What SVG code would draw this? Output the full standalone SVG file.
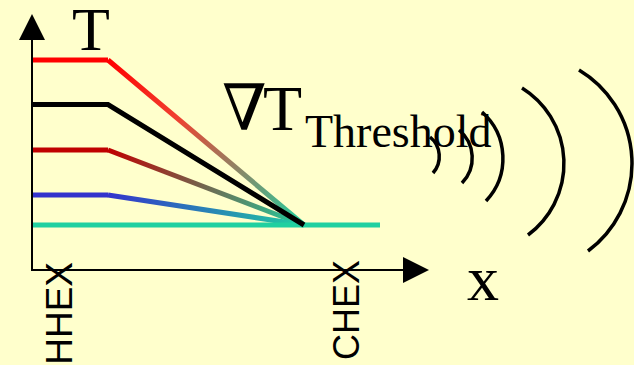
<svg xmlns="http://www.w3.org/2000/svg" width="634" height="365" viewBox="0 0 634 365">
  <style>
    .axis { stroke: #000; stroke-width: 2; fill: none; }
    .curve { stroke-width: 5; fill: none; stroke-linecap: butt; stroke-linejoin: miter; }
    .wave { stroke: #000; stroke-width: 3.5; fill: none; }
    .serif { font-family: "Liberation Serif", "DejaVu Serif", serif; fill: #000; }
    .sans { font-family: "Liberation Sans", Arial, sans-serif; fill: #000; }
  </style>
  <defs>
    <linearGradient id="gRed" gradientUnits="userSpaceOnUse" x1="108" y1="60" x2="304" y2="225">
      <stop offset="0" stop-color="#FF0000"/>
      <stop offset="0.35" stop-color="#F04030"/>
      <stop offset="1" stop-color="#20D0A0"/>
    </linearGradient>
    <linearGradient id="gDark" gradientUnits="userSpaceOnUse" x1="108" y1="150" x2="304" y2="225">
      <stop offset="0" stop-color="#C00000"/>
      <stop offset="1" stop-color="#20D0A0"/>
    </linearGradient>
    <linearGradient id="gBlue" gradientUnits="userSpaceOnUse" x1="108" y1="195" x2="304" y2="225">
      <stop offset="0" stop-color="#3333CC"/>
      <stop offset="1" stop-color="#20D0A0"/>
    </linearGradient>
  </defs>
  <rect width="634" height="365" fill="#FFFFCC"/>

  <g id="axes">
    <line class="axis" x1="32" y1="271" x2="32" y2="36"/>
    <polygon points="32,14 19,40 45,40" fill="#000"/>
    <line class="axis" x1="31" y1="270" x2="406" y2="270"/>
    <polygon points="429,270 403,257 403,283" fill="#000"/>
  </g>

  <g id="curves">
    <polyline class="curve" points="33,60 108,60" stroke="#FF0000"/>
    <line class="curve" x1="108" y1="60" x2="304" y2="225" stroke="url(#gRed)"/>
    <polyline class="curve" points="33,150 108,150" stroke="#C00000"/>
    <line class="curve" x1="108" y1="150" x2="304" y2="225" stroke="url(#gDark)"/>
    <polyline class="curve" points="33,195 108,195" stroke="#3333CC"/>
    <line class="curve" x1="108" y1="195" x2="304" y2="225" stroke="url(#gBlue)"/>
    <polyline class="curve" points="33,225 380,225" stroke="#20D0A0"/>
    <polyline class="curve" points="33,104.5 108,104.5 304,225" stroke="#000"/>
  </g>

  <g id="labels">
    <text class="serif" x="72" y="50" font-size="62">T</text>
    <text class="serif" x="222" y="130" font-size="64">∇</text>
    <text class="serif" x="263" y="130" font-size="64">T</text>
    <text class="serif" x="305" y="147" font-size="46">Threshold</text>
    <text class="serif" x="467" y="300" font-size="64">x</text>
    <text class="sans" font-size="37" text-anchor="end" transform="translate(72,262) rotate(-90)">HHEX</text>
    <text class="sans" font-size="36" text-anchor="end" transform="translate(359,260) rotate(-90)">CHEX</text>
  </g>

  <g id="waves">
    <path class="wave" d="M430,137 A25,25 0 0 1 433,173"/>
    <path class="wave" d="M459,130 A36,36 0 0 1 462,183"/>
    <path class="wave" d="M482,112 A62,62 0 0 1 486,201"/>
    <path class="wave" d="M522,88 A89,89 0 0 1 528,235"/>
    <path class="wave" d="M579,70 A109,109 0 0 1 588,251"/>
  </g>
</svg>
